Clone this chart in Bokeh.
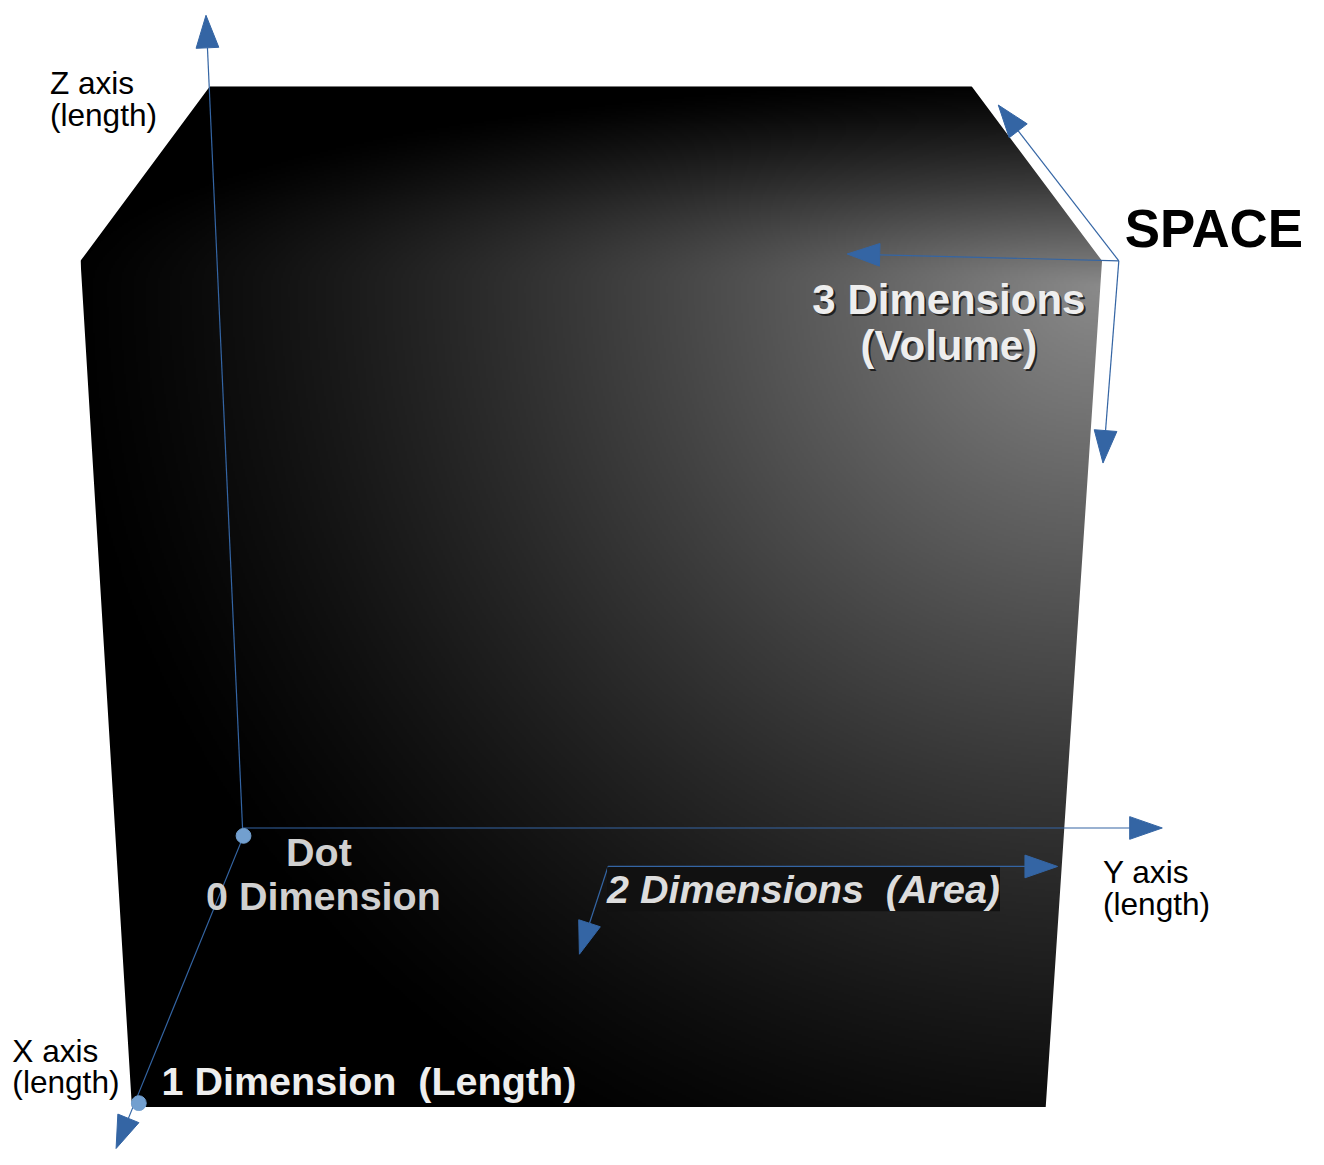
import numpy as np
from bokeh.plotting import figure
from bokeh.models import Range1d
from bokeh.core.properties import value
from bokeh.embed import file_html
from bokeh.resources import INLINE

# ---------------- data (picture coordinates, y pointing down) ----------------
# outline of the shaded solid
cube_x = [212, 983, 1115, 1058, 133, 81]
cube_y = [87, 87, 264, 1122, 1122, 264]

# arrows: start -> tip
arrow_name = ["Z axis", "Y axis", "X axis", "2D right", "2D down", "3D left", "3D up", "3D down"]
arrow_x0 = [245, 245, 246, 615, 615, 1132, 1132, 1132]
arrow_y0 = [839, 839, 847, 878, 878, 264, 264, 264]
arrow_x1 = [208, 1176, 117, 1070, 586, 857, 1010, 1116]
arrow_y1 = [15, 839, 1164, 878, 967, 257, 106, 469]

# dots
dot_x = [246, 140]
dot_y = [847, 1118]

# labels (y = text baseline)
NB = "\u00a0"
axis_text = ["Z axis", "(length)", "X axis", "(length)", "Y axis", "(length)"]
axis_text_x = [50, 50, 12, 12, 1116, 1116]
axis_text_y = [95, 127, 1076, 1108, 895, 927]

space_text = ["SPACE"]
space_x = [1138]
space_y = [250]

dim0_text = ["Dot", "0 Dimension"]
dim0_x = [289, 208]
dim0_y = [877, 922]

dim1_text = ["1 Dimension " + NB + "(Length)"]
dim1_x = [163]
dim1_y = [1109]

dim2_text = ["2 Dimensions " + NB + "(Area)"]
dim2_x = [614]
dim2_y = [915]

dim3_text = ["3 Dimensions", "(Volume)"]
dim3_x = [960, 960]
dim3_y = [318, 365]

# ---------------- styling ----------------
W, H = 1324, 1165
PW, PH = 1308, 1149
S = PW / W
BLUE = "#3465a4"
LIGHT_BLUE = "#729fcf"
FONT = value("Liberation Sans")
MID = 0.3465  # em distance from alphabetic baseline to em-box middle

# shading (light spot) parameters
light_x, light_y = 1112, 290
light_rx, light_ry_up, light_ry_down = 1060, 215, 1000
light_peak, light_gamma = 138, 1.3

HEAD_LEN, HEAD_HW = 33, 11.5


def fs(px):
    return f"{px * S:.1f}px"


def mid(ys, size):
    return [y - MID * size for y in ys]


p = figure(width=PW, height=PH, x_range=Range1d(0, W), y_range=Range1d(H, 0),
           output_backend="svg", toolbar_location=None, min_border=0)
p.axis.visible = False
p.grid.visible = False
p.outline_line_color = None
p.background_fill_color = "white"
p.border_fill_color = "white"

# ---- shaded face as an image ----
L, R = min(cube_x), max(cube_x)
T, B = min(cube_y), max(cube_y)
step = 2
nx = int(np.ceil((R - L) / step))
ny = int(np.ceil((B - T) / step))
gx = L + (np.arange(nx) + 0.5) * step
gy = T + (np.arange(ny) + 0.5) * step
GX, GY = np.meshgrid(gx, gy)
ddx = (GX - light_x) / light_rx
ddy = np.where(GY < light_y, (GY - light_y) / light_ry_up, (GY - light_y) / light_ry_down)
dd = np.hypot(ddx, ddy)
v = (light_peak * np.clip(1 - dd, 0, 1) ** light_gamma).astype(np.uint8)
img = np.empty((ny, nx), dtype=np.uint32)
view = img.view(dtype=np.uint8).reshape((ny, nx, 4))
view[..., 0] = v
view[..., 1] = v
view[..., 2] = v
view[..., 3] = 255
p.image_rgba(image=[img], x=L, y=T, dw=nx * step, dh=ny * step)

# white masks outside the outline
m = 40
mask_xs = [
    [cube_x[0], cube_x[0], cube_x[5], cube_x[4], cube_x[4], L - m, L - m],
    [cube_x[1], cube_x[1], cube_x[2], cube_x[3], cube_x[3], R + m, R + m],
    [L - m, R + m, R + m, L - m],
    [L - m, R + m, R + m, L - m],
]
mask_ys = [
    [T - m, cube_y[0], cube_y[5], cube_y[4], B + m, B + m, T - m],
    [T - m, cube_y[1], cube_y[2], cube_y[3], B + m, B + m, T - m],
    [T - m, T - m, T, T],
    [B, B, B + m, B + m],
]
p.patches(mask_xs, mask_ys, fill_color="white", line_color=None)

# ---- arrows ----
x0 = np.array(arrow_x0, float)
y0 = np.array(arrow_y0, float)
x1 = np.array(arrow_x1, float)
y1 = np.array(arrow_y1, float)
ux = x1 - x0
uy = y1 - y0
n = np.hypot(ux, uy)
ux /= n
uy /= n
bx = x1 - HEAD_LEN * ux
by = y1 - HEAD_LEN * uy
px_, py_ = -uy, ux
p.segment(x0=x0, y0=y0, x1=bx, y1=by, line_color=BLUE, line_width=1.2)
head_xs = [[x1[i], bx[i] + HEAD_HW * px_[i], bx[i] - HEAD_HW * px_[i]] for i in range(len(x1))]
head_ys = [[y1[i], by[i] + HEAD_HW * py_[i], by[i] - HEAD_HW * py_[i]] for i in range(len(y1))]
p.patches(head_xs, head_ys, fill_color=BLUE, line_color=BLUE, line_width=1)

# ---- dots ----
p.scatter(dot_x, dot_y, size=15 * S, fill_color=LIGHT_BLUE, line_color=LIGHT_BLUE)

# ---- texts ----
p.text(axis_text_x, mid(axis_text_y, 32), text=axis_text, text_font=FONT, text_font_size=fs(32),
       text_color="black", text_align="left", text_baseline="middle")
p.text(space_x, mid(space_y, 53.5), text=space_text, text_font=FONT, text_font_size=fs(53.5),
       text_font_style="bold", text_color="black", text_align="left", text_baseline="middle")
p.text(dim0_x, mid(dim0_y, 40), text=dim0_text, text_font=FONT, text_font_size=fs(40),
       text_font_style="bold", text_color="#d0d0d0", text_align="left", text_baseline="middle")
p.text(dim1_x, mid(dim1_y, 40), text=dim1_text, text_font=FONT, text_font_size=fs(40),
       text_font_style="bold", text_color="#eeeeee", text_align="left", text_baseline="middle")
p.text(dim2_x, mid(dim2_y, 40), text=dim2_text, text_font=FONT, text_font_size=fs(40),
       text_font_style="bold italic", text_color="#dddddd", text_align="left",
       text_baseline="middle", background_fill_color="#111111")
p.text([x + 2 for x in dim3_x], mid([y + 2 for y in dim3_y], 42.5), text=dim3_text, text_font=FONT,
       text_font_size=fs(42.5), text_font_style="bold", text_color="#151515", text_alpha=0.85,
       text_align="center", text_baseline="middle")
p.text(dim3_x, mid(dim3_y, 42.5), text=dim3_text, text_font=FONT, text_font_size=fs(42.5),
       text_font_style="bold", text_color="#eeeeee", text_align="center", text_baseline="middle")

open("out.html", "w").write(file_html(p, INLINE))
